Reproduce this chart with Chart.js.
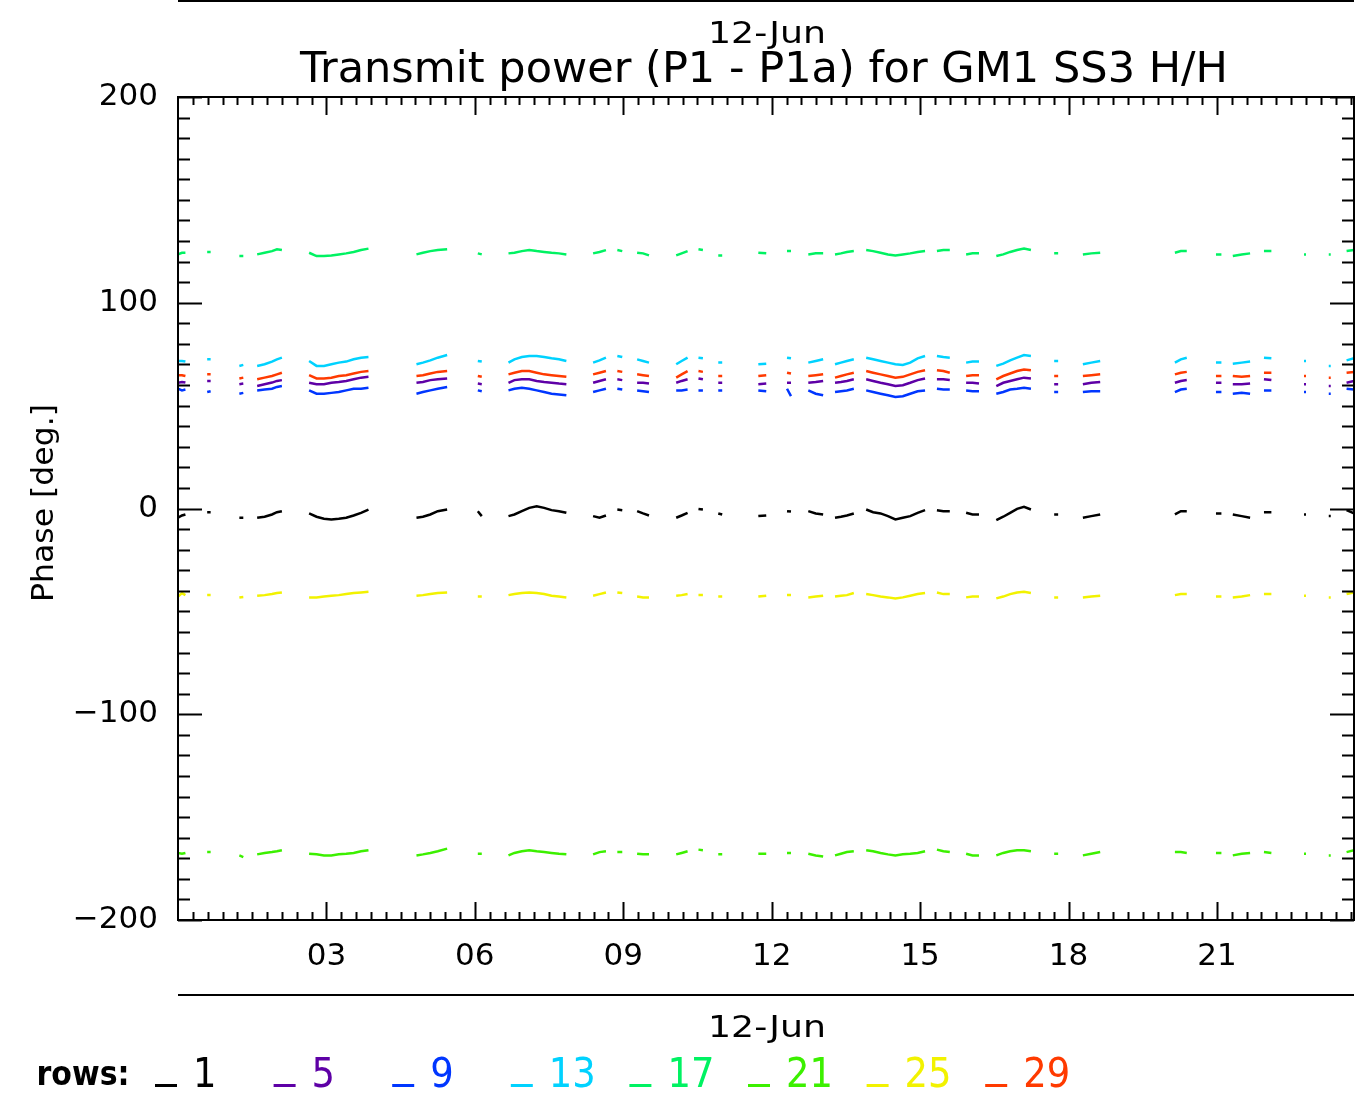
<!DOCTYPE html>
<html>
<head>
<meta charset="utf-8">
<title>Transmit power (P1 - P1a) for GM1 SS3 H/H</title>
<script src="https://cdn.jsdelivr.net/npm/chart.js@4.4.1/dist/chart.umd.min.js"></script>
<style>
  html, body { margin: 0; padding: 0; background: #fff; }
  canvas { display: block; }
</style>
</head>
<body>
<canvas id="phaseChart" width="1366" height="1102"></canvas>
<script>
// Sample times (hours of 12-Jun), one run of samples per data segment
const hours = [
  0.0, 0.08, 0.15,  0.59, 0.66,  1.24, 1.32,  1.6, 1.75, 1.9, 2.0, 2.1,
  2.65, 2.8, 2.95, 3.1, 3.25, 3.4, 3.55, 3.7, 3.85,
  4.82, 4.95, 5.1, 5.25, 5.44,  6.06, 6.14,
  6.68, 6.8, 6.95, 7.1, 7.25, 7.4, 7.55, 7.7, 7.85,
  8.39, 8.52, 8.65,  8.88, 8.98,  9.28, 9.4, 9.52,  10.07, 10.18, 10.3,
  10.52, 10.61,  10.92, 11.0,  11.73, 11.89,  12.31, 12.39,  12.74, 12.89, 13.04,
  13.28, 13.4, 13.52, 13.66,
  13.91, 14.05, 14.2, 14.35, 14.5, 14.65, 14.8, 14.95, 15.1,
  15.34, 15.47, 15.6,  15.93, 16.06, 16.19,  16.54, 16.68, 16.82, 16.96, 17.1, 17.24,
  17.71, 17.79,  18.29, 18.46, 18.64,  20.15, 20.27, 20.39,  20.98, 21.09,
  21.32, 21.5, 21.67,  21.95, 22.1,  22.76, 22.8,  23.26, 23.3,  23.62, 23.77
];

// Phase [deg.] per row
const row1 = [
  -4.5, -3.4, -2.9,  -1.8, -1.8,  -4.5, -4.5,  -4.5, -4.0, -2.9, -1.8, -1.3,
  -2.4, -4.0, -5.0, -5.3, -5.0, -4.5, -3.4, -2.1, -0.5,
  -4.5, -4.0, -2.9, -1.3, -0.5,  -1.3, -3.7,
  -3.7, -2.9, -1.3, 0.3, 1.1, 0.3, -0.8, -1.3, -2.1,
  -3.7, -4.5, -3.4,  -0.5, -0.8,  -1.3, -2.4, -3.4,  -4.5, -3.4, -2.1,
  -0.2, -0.5,  -2.4, -2.9,  -3.7, -3.4,  -1.3, -1.5,  -1.3, -2.4, -2.9,
  -4.5, -4.0, -3.4, -2.4,
  -0.5, -1.8, -2.4, -3.7, -5.3, -4.5, -3.7, -2.1, -0.8,
  -0.8, -1.3, -1.3,  -2.1, -2.9, -2.9,  -5.7, -4.0, -2.1, -0.2, 0.8, -0.5,
  -2.9, -2.9,  -4.5, -3.7, -2.9,  -2.9, -1.3, -1.3,  -2.4, -2.4,
  -2.9, -3.7, -4.5,  -1.8, -1.8,  -2.9, -2.9,  -3.7, -3.7,  -0.8, -2.4
];
const row5 = [
  61.1, 61.5, 61.2,  62.0, 62.0,  60.4, 60.7,  59.5, 60.4, 61.2, 62.0, 62.4,
  61.1, 60.4, 60.4, 61.1, 61.5, 62.0, 62.8, 63.6, 64.0,
  61.1, 61.5, 62.4, 62.8, 63.2,  60.7, 60.4,
  61.1, 62.4, 62.8, 62.8, 62.0, 61.5, 61.1, 60.7, 60.4,
  61.1, 62.0, 62.8,  62.8, 62.4,  61.1, 61.1, 60.7,  61.1, 62.0, 62.8,
  63.2, 62.8,  61.1, 61.1,  60.4, 60.7,  61.1, 61.1,  61.1, 61.5, 62.0,
  61.1, 61.5, 62.0, 62.8,
  62.8, 62.0, 61.1, 60.4, 59.5, 59.9, 61.1, 62.4, 63.2,
  62.8, 62.8, 62.4,  61.1, 61.1, 60.7,  59.5, 61.1, 62.0, 62.8, 63.6, 63.2,
  60.4, 60.4,  60.4, 61.1, 61.5,  61.1, 62.0, 62.4,  61.1, 61.1,
  60.4, 60.4, 60.7,  62.8, 62.4,  60.4, 60.4,  59.5, 59.5,  61.1, 62.0
];
const row9 = [
  58.2, 57.4, 57.8,  56.6, 57.0,  55.8, 56.2,  57.4, 57.8, 58.2, 59.1, 59.5,
  57.4, 55.8, 55.8, 56.2, 56.6, 57.4, 58.2, 58.2, 58.7,
  55.8, 56.6, 57.4, 58.2, 59.1,  57.4, 57.0,
  57.4, 58.2, 58.7, 58.2, 57.4, 56.6, 55.8, 55.4, 55.0,
  56.6, 57.4, 58.2,  58.2, 57.8,  57.4, 57.0, 56.6,  57.4, 57.4, 57.8,
  57.4, 57.4,  57.4, 57.4,  57.4, 57.0,  58.2, 54.6,  57.4, 55.8, 55.0,
  56.6, 57.0, 57.4, 58.2,
  57.4, 56.6, 55.8, 55.0, 54.2, 54.6, 55.8, 57.0, 57.4,
  58.2, 57.8, 57.8,  57.4, 57.0, 57.0,  55.8, 56.6, 57.8, 58.2, 58.7, 58.2,
  56.6, 56.6,  56.6, 57.0, 57.0,  56.6, 57.8, 58.2,  56.6, 56.6,
  55.8, 56.2, 55.8,  57.4, 57.4,  56.6, 56.6,  55.8, 55.8,  58.2, 57.8
];
const row13 = [
  71.7, 71.7, 71.4,  72.5, 72.5,  69.3, 69.8,  69.3, 70.1, 71.4, 72.5, 73.3,
  71.7, 69.3, 69.3, 70.1, 70.9, 71.4, 72.5, 73.3, 73.6,
  70.1, 70.9, 72.0, 73.3, 74.6,  71.7, 71.4,
  70.9, 72.5, 73.6, 74.1, 74.1, 73.6, 73.0, 72.5, 71.7,
  70.9, 72.0, 73.3,  74.1, 73.6,  72.5, 71.7, 70.9,  70.1, 71.7, 73.3,
  73.3, 73.0,  70.9, 70.9,  70.1, 70.4,  73.3, 73.0,  70.9, 71.7, 72.5,
  70.1, 70.9, 71.7, 72.5,
  73.3, 72.5, 71.7, 70.9, 70.1, 69.8, 70.9, 73.0, 74.1,
  74.1, 73.6, 73.3,  70.9, 71.4, 71.4,  69.3, 70.4, 72.0, 73.3, 74.6, 74.1,
  71.7, 71.7,  70.1, 70.9, 71.7,  70.9, 72.5, 73.3,  70.9, 70.9,
  70.4, 70.9, 71.4,  73.3, 73.0,  71.7, 71.7,  69.3, 69.3,  72.0, 73.0
];
const row17 = [
  123.5, 124.3, 124.3,  124.7, 124.7,  122.7, 122.7,  123.5, 124.3, 125.1, 126.0, 125.6,
  124.3, 122.7, 122.7, 123.0, 123.5, 124.0, 124.7, 125.6, 126.3,
  123.5, 124.3, 125.1, 125.6, 126.0,  124.0, 123.5,
  124.0, 124.3, 125.1, 125.6, 125.1, 124.7, 124.3, 124.0, 123.5,
  124.0, 124.7, 125.6,  125.6, 125.1,  124.3, 124.0, 123.0,  123.0, 124.0, 125.1,
  126.0, 125.6,  123.0, 123.0,  124.3, 124.0,  125.1, 125.1,  123.5, 124.0, 124.0,
  123.5, 124.0, 124.7, 125.1,
  125.6, 125.1, 124.3, 123.5, 123.0, 123.5, 124.0, 124.7, 125.1,
  125.1, 125.6, 125.6,  123.5, 124.0, 124.0,  122.7, 123.5, 124.7, 125.6, 126.3, 125.6,
  124.0, 124.0,  123.5, 124.0, 124.3,  124.3, 125.1, 125.1,  123.5, 123.5,
  122.7, 123.5, 124.0,  125.1, 125.1,  123.5, 123.5,  123.5, 123.5,  125.1, 125.6
];
const row21 = [
  -167.4, -167.8, -167.4,  -167.0, -167.0,  -168.6, -169.4,  -168.1, -167.4, -167.0, -166.6, -166.1,
  -167.8, -168.1, -168.6, -168.6, -168.1, -167.8, -167.4, -166.6, -166.1,
  -168.6, -168.1, -167.4, -166.6, -165.3,  -167.8, -167.8,
  -168.6, -167.4, -166.6, -166.1, -166.6, -167.0, -167.4, -167.8, -168.1,
  -168.1, -167.0, -166.6,  -167.0, -167.0,  -167.8, -168.1, -168.1,  -168.1, -167.4, -166.6,
  -165.8, -166.1,  -168.1, -168.1,  -167.8, -167.8,  -167.4, -167.4,  -167.8, -168.6, -169.1,
  -168.6, -167.8, -167.0, -166.6,
  -166.1, -166.6, -167.4, -168.1, -168.6, -168.1, -167.8, -167.4, -166.6,
  -165.8, -166.6, -167.0,  -167.8, -168.6, -168.6,  -168.6, -167.4, -166.6, -166.1, -166.1, -166.6,
  -167.8, -167.8,  -168.6, -167.8, -167.0,  -167.0, -167.0, -167.4,  -167.4, -167.4,
  -168.6, -167.8, -167.4,  -167.0, -167.4,  -167.8, -167.8,  -168.6, -168.6,  -167.0, -166.1
];
const row25 = [
  -42.8, -41.1, -42.1,  -42.1, -42.1,  -43.2, -43.0,  -42.4, -42.1, -41.6, -41.1, -40.8,
  -43.2, -43.2, -42.8, -42.4, -42.1, -41.6, -41.1, -40.8, -40.5,
  -42.4, -42.1, -41.6, -41.1, -40.8,  -42.8, -42.8,
  -42.1, -41.6, -41.1, -40.8, -41.1, -41.6, -42.4, -42.8, -43.2,
  -42.4, -41.6, -40.8,  -40.8, -41.1,  -42.8, -43.2, -43.2,  -42.4, -42.1, -41.6,
  -42.1, -42.1,  -42.8, -42.8,  -42.8, -42.4,  -42.1, -42.1,  -43.2, -42.8, -42.4,
  -42.8, -42.4, -42.1, -41.1,
  -41.6, -42.1, -42.8, -43.2, -43.7, -43.2, -42.4, -41.6, -41.1,
  -40.8, -41.6, -41.6,  -43.2, -42.8, -42.8,  -43.7, -42.8, -41.6, -40.8, -40.5, -41.1,
  -43.2, -43.2,  -43.2, -42.8, -42.4,  -42.1, -41.6, -41.6,  -42.8, -42.8,
  -43.2, -42.8, -42.1,  -41.6, -41.6,  -42.4, -42.4,  -43.2, -43.2,  -41.6, -40.8
];
const row29 = [
  64.8, 64.8, 64.4,  65.2, 65.2,  63.2, 63.6,  62.8, 63.6, 64.4, 65.2, 66.0,
  64.8, 63.2, 63.2, 63.6, 64.4, 64.8, 65.6, 66.4, 66.8,
  64.4, 64.8, 65.6, 66.4, 66.8,  64.4, 64.0,
  65.2, 66.0, 66.8, 66.8, 66.0, 65.2, 64.8, 64.4, 64.0,
  65.2, 66.0, 66.8,  66.8, 66.4,  65.2, 64.8, 64.4,  63.6, 65.2, 66.8,
  66.8, 66.4,  64.4, 64.4,  64.4, 64.8,  66.0, 65.6,  64.4, 64.8, 65.2,
  63.6, 64.4, 65.2, 66.0,
  66.8, 66.0, 65.2, 64.4, 63.6, 64.0, 65.2, 66.4, 67.2,
  67.2, 66.8, 66.0,  64.4, 64.8, 64.8,  62.8, 64.4, 65.6, 66.8, 67.6, 67.2,
  64.4, 64.4,  64.4, 64.8, 65.2,  65.2, 66.0, 66.4,  64.4, 64.4,
  64.4, 64.0, 64.4,  66.0, 66.0,  64.4, 64.4,  63.6, 63.6,  66.0, 66.4
];

const rowLabels = ['1', '5', '9', '13', '17', '21', '25', '29'];
const rowSeries = [row1, row5, row9, row13, row17, row21, row25, row29];
const rowColors = ['#000000', '#5e00a6', '#0036ff', '#00d2ff', '#00f262', '#3cf000', '#f2f200', '#ff3a00'];

// Axis ticks
const xTickHours = [3, 6, 9, 12, 15, 18, 21];
const xTickLabels = ['03', '06', '09', '12', '15', '18', '21'];
const yTickValues = [-200, -100, 0, 100, 200];

const FONT = 'DejaVu Sans';

// Draw text centred on (cx, cy), stretched to a given width
function fitText(ctx, str, cx, cy, font, width, color, angle) {
  ctx.save();
  ctx.font = font;
  ctx.fillStyle = color;
  ctx.textAlign = 'center';
  ctx.textBaseline = 'middle';
  ctx.translate(cx, cy);
  if (angle) ctx.rotate(angle);
  const w = ctx.measureText(str).width;
  ctx.scale(width / w, 1);
  ctx.fillText(str, 0, 0);
  ctx.restore();
}

// Frame, inward ticks, titles and the "rows:" key, IDL style
const idlFrame = {
  id: 'idlFrame',
  afterDraw(chart) {
    const ctx = chart.ctx;
    const { left, right, top, bottom } = chart.chartArea;
    const x = chart.scales.x;
    const y = chart.scales.y;

    ctx.save();
    ctx.strokeStyle = '#000';
    ctx.lineWidth = 2;
    ctx.strokeRect(left, top, right - left, bottom - top);

    ctx.beginPath();
    // y minor ticks every 10 deg, major every 100
    for (let k = -20; k <= 20; k++) {
      const py = Math.round(y.getPixelForValue(k * 10)) + 0.5;
      const len = k % 10 === 0 ? 24 : 12;
      ctx.moveTo(left, py); ctx.lineTo(left + len, py);
      ctx.moveTo(right, py); ctx.lineTo(right - len, py);
    }
    // x minor ticks every 0.3 h, major every 3 h
    for (let k = 1; k * 0.3 < x.max; k++) {
      const px = Math.round(x.getPixelForValue(k * 0.3)) + 0.5;
      const len = k % 10 === 0 ? 18 : 8;
      ctx.moveTo(px, bottom); ctx.lineTo(px, bottom - len);
      ctx.moveTo(px, top); ctx.lineTo(px, top + len);
    }
    ctx.stroke();

    // rules above the title and below the axis
    ctx.beginPath();
    ctx.moveTo(left, 1); ctx.lineTo(right, 1);
    ctx.moveTo(left, 995); ctx.lineTo(right, 995);
    ctx.stroke();
    ctx.restore();

    fitText(ctx, '12-Jun', 767, 35, `31px ${FONT}`, 118, '#000');
    fitText(ctx, 'Transmit power (P1 - P1a) for GM1 SS3 H/H', 764, 71, `42px ${FONT}`, 928, '#000');
    fitText(ctx, 'Phase [deg.]', 45, 503, `31px ${FONT}`, 198, '#000', -Math.PI / 2);
    fitText(ctx, '12-Jun', 767, 1029, `31px ${FONT}`, 118, '#000');
    fitText(ctx, 'rows:', 83, 1076, `bold 34px ${FONT}`, 93, '#000');

    // key: coloured underscore + row number
    ctx.save();
    rowLabels.forEach((label, i) => {
      const ux = 155 + i * 118.6;
      ctx.fillStyle = rowColors[i];
      ctx.fillRect(ux, 1084, 22, 3);
      ctx.save();
      ctx.font = `41px ${FONT}`;
      ctx.textAlign = 'left';
      ctx.textBaseline = 'alphabetic';
      ctx.translate(ux + 38, 1087);
      ctx.scale(0.9, 1);
      ctx.fillText(label, 0, 0);
      ctx.restore();
    });
    ctx.restore();
  }
};

const datasets = rowSeries.map((vals, i) => ({
  label: rowLabels[i],
  data: hours.map((h, j) => ({ x: h, y: vals[j] })),
  borderColor: rowColors[i],
  backgroundColor: rowColors[i],
  borderWidth: 2.5,
  pointRadius: 0,
  tension: 0,
  spanGaps: 0.2,
  order: rowLabels.length - i
}));

const tickFont = { family: FONT, size: 31 };

new Chart(document.getElementById('phaseChart'), {
  type: 'line',
  data: { datasets },
  options: {
    responsive: false,
    animation: false,
    devicePixelRatio: 1,
    layout: { padding: { top: 97, right: 12, left: 0, bottom: 0 } },
    plugins: {
      legend: { display: false },
      tooltip: { enabled: false },
      title: { display: false }
    },
    scales: {
      x: {
        type: 'linear',
        min: 0,
        max: 23.77,
        grid: { display: false },
        border: { display: false },
        ticks: {
          font: tickFont,
          color: '#000',
          padding: 10,
          maxRotation: 0,
          autoSkip: false,
          callback: (v) => xTickLabels[xTickHours.indexOf(v)]
        },
        afterBuildTicks: (s) => { s.ticks = xTickHours.map(v => ({ value: v })); },
        afterFit: (s) => { s.height = 182; }
      },
      y: {
        type: 'linear',
        min: -200,
        max: 200,
        grid: { display: false },
        border: { display: false },
        ticks: {
          font: tickFont,
          color: '#000',
          padding: 12,
          callback: (v) => (v < 0 ? '\u2212' + (-v) : String(v))
        },
        afterBuildTicks: (s) => { s.ticks = yTickValues.map(v => ({ value: v })); },
        afterFit: (s) => { s.width = 178; }
      }
    }
  },
  plugins: [idlFrame]
});
</script>
</body>
</html>
